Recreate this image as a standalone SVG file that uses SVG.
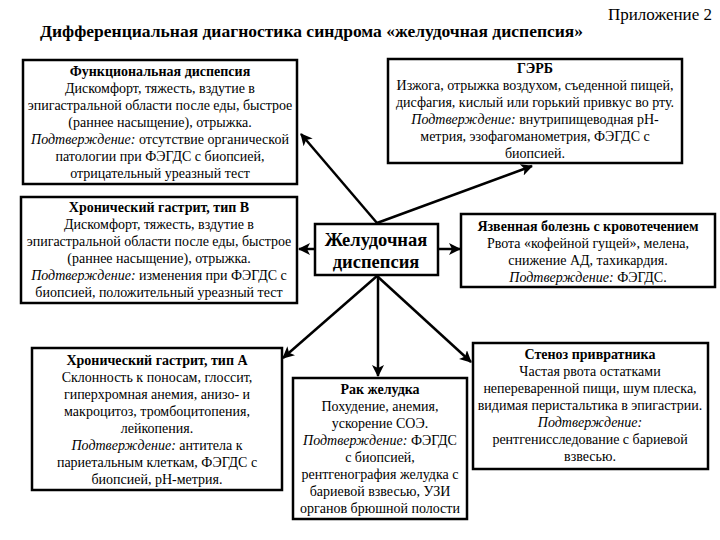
<svg xmlns="http://www.w3.org/2000/svg" width="720" height="540" viewBox="0 0 720 540" xml:lang="ru" lang="ru" font-family="Liberation Serif">
<style>
text{font-family:"Liberation Serif","Times New Roman",serif;fill:#000}
.t{font-size:14px;text-anchor:middle}
.b{font-weight:bold}
.i{font-style:italic}
.box{fill:#fff;stroke:#000;stroke-width:2.5}
.c{stroke:#000;stroke-width:2.5;fill:none}
</style>
<defs>
<marker id="ah" markerUnits="userSpaceOnUse" markerWidth="14" markerHeight="12" refX="11" refY="6" orient="auto">
<path d="M0,0 L12,6 L0,12 L3,6 Z" fill="#000"/>
</marker>
</defs>
<text x="712" y="20" font-size="17" text-anchor="end">Приложение 2</text>
<text x="40" y="37" font-size="17.5" font-weight="bold">Дифференциальная диагностика синдрома «желудочная диспепсия»</text>

<g id="connectors">
<line class="c" x1="377" y1="223" x2="301" y2="134" marker-end="url(#ah)"/>
<line class="c" x1="377" y1="223" x2="532" y2="166" marker-end="url(#ah)"/>
<line class="c" x1="315" y1="249" x2="299" y2="249" marker-end="url(#ah)"/>
<line class="c" x1="438" y1="249" x2="460" y2="249" marker-end="url(#ah)"/>
<line class="c" x1="377" y1="276" x2="283" y2="358" marker-end="url(#ah)"/>
<line class="c" x1="378" y1="276" x2="378" y2="376" marker-end="url(#ah)"/>
<line class="c" x1="377" y1="276" x2="471" y2="362" marker-end="url(#ah)"/>
</g>

<g id="functional">
<rect class="box" x="23" y="60" width="274" height="124"/>
<text class="t b" x="160" y="76">Функциональная диспепсия</text>
<text class="t" x="160" y="93">Дискомфорт, тяжесть, вздутие в</text>
<text class="t" x="160" y="110">эпигастральной области после еды, быстрое</text>
<text class="t" x="160" y="127">(раннее насыщение), отрыжка.</text>
<text class="t" x="160" y="144"><tspan class="i">Подтверждение:</tspan> отсутствие органической</text>
<text class="t" x="160" y="161">патологии при ФЭГДС с биопсией,</text>
<text class="t" x="160" y="178">отрицательный уреазный тест</text>
</g>

<g id="gerd">
<rect class="box" x="388" y="59" width="294" height="104"/>
<text class="t b" x="535" y="73">ГЭРБ</text>
<text class="t" x="535" y="90">Изжога, отрыжка воздухом, съеденной пищей,</text>
<text class="t" x="535" y="107">дисфагия, кислый или горький привкус во рту.</text>
<text class="t" x="535" y="124"><tspan class="i">Подтверждение:</tspan> внутрипищеводная рН-</text>
<text class="t" x="535" y="141">метрия, эзофагоманометрия, ФЭГДС с</text>
<text class="t" x="535" y="158">биопсией.</text>
</g>

<g id="gastritis-b">
<rect class="box" x="21" y="197" width="276" height="106"/>
<text class="t b" x="159" y="212">Хронический гастрит, тип В</text>
<text class="t" x="159" y="229">Дискомфорт, тяжесть, вздутие в</text>
<text class="t" x="159" y="246">эпигастральной области после еды, быстрое</text>
<text class="t" x="159" y="263">(раннее насыщение), отрыжка.</text>
<text class="t" x="159" y="280"><tspan class="i">Подтверждение:</tspan> изменения при ФЭГДС с</text>
<text class="t" x="159" y="297">биопсией, положительный уреазный тест</text>
</g>

<g id="center">
<rect class="box" x="315" y="224" width="123" height="51"/>
<text x="376" y="246" font-size="18.5" font-weight="bold" text-anchor="middle">Желудочная</text>
<text x="376" y="268" font-size="18.5" font-weight="bold" text-anchor="middle">диспепсия</text>
</g>

<g id="ulcer">
<rect class="box" x="461" y="214" width="254" height="73"/>
<text class="t b" x="588" y="231">Язвенная болезнь с кровотечением</text>
<text class="t" x="588" y="248">Рвота «кофейной гущей», мелена,</text>
<text class="t" x="588" y="265">снижение АД, тахикардия.</text>
<text class="t" x="588" y="282"><tspan class="i">Подтверждение:</tspan> ФЭГДС.</text>
</g>

<g id="gastritis-a">
<rect class="box" x="32" y="348" width="250" height="142"/>
<text class="t b" x="157" y="365">Хронический гастрит, тип А</text>
<text class="t" x="157" y="382">Склонность к поносам, глоссит,</text>
<text class="t" x="157" y="399">гиперхромная анемия, анизо- и</text>
<text class="t" x="157" y="416">макроцитоз, тромбоцитопения,</text>
<text class="t" x="157" y="433">лейкопения.</text>
<text class="t" x="157" y="450"><tspan class="i">Подтверждение:</tspan> антитела к</text>
<text class="t" x="157" y="467">париетальным клеткам, ФЭГДС с</text>
<text class="t" x="157" y="484">биопсией, рН-метрия.</text>
</g>

<g id="cancer">
<rect class="box" x="293" y="378" width="174" height="141"/>
<text class="t b" x="380" y="394">Рак желудка</text>
<text class="t" x="380" y="411">Похудение, анемия,</text>
<text class="t" x="380" y="428">ускорение СОЭ.</text>
<text class="t" x="380" y="445"><tspan class="i">Подтверждение:</tspan> ФЭГДС</text>
<text class="t" x="380" y="462">с биопсией,</text>
<text class="t" x="380" y="479">рентгенография желудка с</text>
<text class="t" x="380" y="496">бариевой взвесью, УЗИ</text>
<text class="t" x="380" y="513">органов брюшной полости</text>
</g>

<g id="stenosis">
<rect class="box" x="473" y="343" width="235" height="126"/>
<text class="t b" x="590" y="359">Стеноз привратника</text>
<text class="t" x="590" y="376">Частая рвота остатками</text>
<text class="t" x="590" y="393">непереваренной пищи, шум плеска,</text>
<text class="t" x="590" y="410">видимая перистальтика в эпигастрии.</text>
<text class="t i" x="590" y="427">Подтверждение:</text>
<text class="t" x="590" y="444">рентгенисследование с бариевой</text>
<text class="t" x="590" y="461">взвесью.</text>
</g>
</svg>
